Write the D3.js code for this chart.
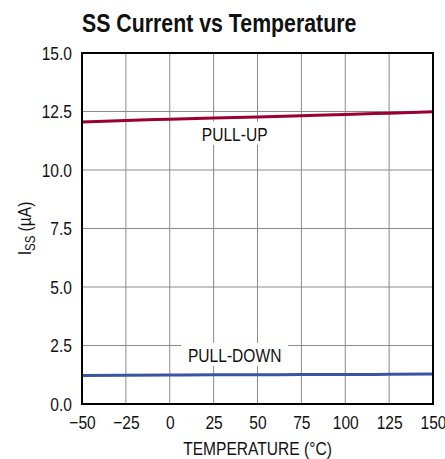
<!DOCTYPE html>
<html>
<head>
<meta charset="utf-8">
<script src="https://cdn.jsdelivr.net/npm/d3@7"></script>
<style>
  body { margin: 0; background: #fff; }
  svg text { font-family: "Liberation Sans", Arial, sans-serif; fill: #111; }
  .axis path, .axis line { display: none; }
  .grid line { stroke: #8a8a8a; stroke-width: 1; }
</style>
</head>
<body>
<script>
'use strict';
// values
var temps = [-50, -25, 0, 25, 50, 75, 100, 125, 150];
var pullUp = [12.05, 12.12, 12.17, 12.22, 12.27, 12.32, 12.37, 12.43, 12.49];
var pullDown = [1.22, 1.23, 1.24, 1.25, 1.25, 1.26, 1.26, 1.27, 1.28];
var xTicks = [-50, -25, 0, 25, 50, 75, 100, 125, 150];
var yTicks = [0, 2.5, 5, 7.5, 10, 12.5, 15];

var SX = 0.82; // no narrow font installed, squeeze text horizontally

var svg = d3.select("body").append("svg")
    .attr("width", 445)
    .attr("height", 459);

var margin = {top: 53, right: 12, bottom: 55, left: 82},
    width = 445 - margin.left - margin.right,
    height = 459 - margin.top - margin.bottom;

var g = svg.append("g")
    .attr("transform", "translate(" + margin.left + "," + margin.top + ")");

var x = d3.scaleLinear().domain([-50, 150]).range([0, width]);
var y = d3.scaleLinear().domain([0, 15]).range([height, 0]);

// text placed at (px,py) and squeezed
function ntext(parent, px, py, rot) {
    return parent.append("text")
        .attr("transform", "translate(" + px + "," + py + ")" + (rot ? " rotate(" + rot + ")" : "") + " scale(" + SX + ",1)");
}

// grid
var grid = g.append("g").attr("class", "grid");
grid.selectAll(".vx").data(xTicks.slice(1, -1)).enter().append("line")
    .attr("x1", function(d) { return x(d); }).attr("x2", function(d) { return x(d); })
    .attr("y1", 0).attr("y2", height);
grid.selectAll(".hy").data(yTicks.slice(1, -1)).enter().append("line")
    .attr("y1", function(d) { return y(d); }).attr("y2", function(d) { return y(d); })
    .attr("x1", 0).attr("x2", width);

// label boxes knock out the grid
function label(txt, tx, ty, w) {
    var cx = x(tx), cy = y(ty);
    g.append("rect")
        .attr("x", cx - w / 2).attr("y", cy - 12)
        .attr("width", w).attr("height", 23)
        .attr("fill", "#fff");
    ntext(g, cx, cy + 7)
        .attr("text-anchor", "middle")
        .style("font-size", "19px")
        .text(txt);
}
label("PULL-UP", 37, 11.55, 78);
label("PULL-DOWN", 37, 2.1, 107);

// curves
var line = d3.line()
    .x(function(d) { return x(d[0]); })
    .y(function(d) { return y(d[1]); })
    .curve(d3.curveMonotoneX);

g.append("path")
    .datum(temps.map(function(t, i) { return [t, pullUp[i]]; }))
    .attr("fill", "none")
    .attr("stroke", "#9a0032")
    .attr("stroke-width", 3)
    .attr("d", line);

g.append("path")
    .datum(temps.map(function(t, i) { return [t, pullDown[i]]; }))
    .attr("fill", "none")
    .attr("stroke", "#3a53a3")
    .attr("stroke-width", 3)
    .attr("d", line);

// frame
g.append("rect")
    .attr("width", width).attr("height", height)
    .attr("fill", "none")
    .attr("stroke", "#000")
    .attr("stroke-width", 2);

// axes
g.append("g").attr("class", "axis")
    .attr("transform", "translate(0," + height + ")")
    .call(d3.axisBottom(x).tickValues(xTicks).tickSize(0).tickPadding(12).tickFormat(d3.format("d")))
    .selectAll("text")
    .style("font-size", "19px").attr("fill", "#111")
    .attr("transform", "scale(" + SX + ",1)");

g.append("g").attr("class", "axis")
    .call(d3.axisLeft(y).tickValues(yTicks).tickSize(0).tickPadding(10).tickFormat(d3.format(".1f")))
    .selectAll("text")
    .style("font-size", "19px").attr("fill", "#111")
    .attr("x", -10 / SX)
    .attr("transform", "scale(" + SX + ",1)");

// titles
ntext(svg, 82, 32)
    .style("font-size", "26px")
    .style("font-weight", "bold")
    .text("SS Current vs Temperature");

ntext(svg, margin.left + width / 2, 455)
    .attr("text-anchor", "middle")
    .style("font-size", "19px")
    .text("TEMPERATURE (°C)");

var yl = ntext(svg, 31, margin.top + height / 2, -90)
    .attr("text-anchor", "middle")
    .style("font-size", "19px");
yl.append("tspan").text("I");
yl.append("tspan").attr("dy", 4).style("font-size", "14px").text("SS");
yl.append("tspan").attr("dy", -4).text(" (µA)");
</script>
</body>
</html>
